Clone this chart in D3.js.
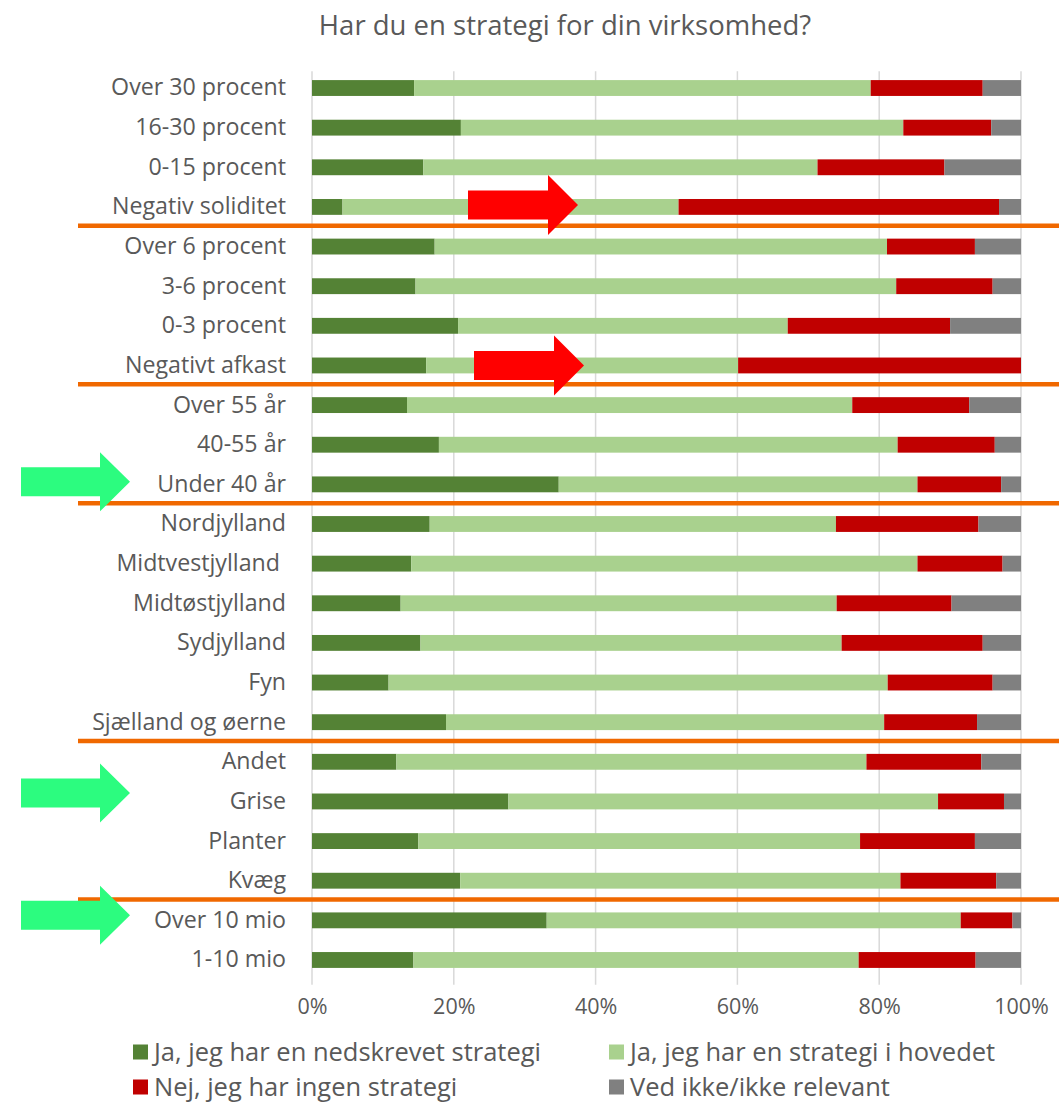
<!DOCTYPE html>
<html>
<head>
<meta charset="utf-8">
<script src="https://cdn.jsdelivr.net/npm/d3@7"></script>
<style>
  body { margin: 0; background: #fff; }
  text { font-family: "Open Sans", sans-serif; fill: #595959; }
</style>
</head>
<body>
<div id="vis"></div>
<script>

// data (percent of respondents)
var categories = ['Over 30 procent', '16-30 procent', '0-15 procent', 'Negativ soliditet',
  'Over 6 procent', '3-6 procent', '0-3 procent', 'Negativt afkast',
  'Over 55 år', '40-55 år', 'Under 40 år',
  'Nordjylland', 'Midtvestjylland ', 'Midtøstjylland', 'Sydjylland', 'Fyn', 'Sjælland og øerne',
  'Andet', 'Grise', 'Planter', 'Kvæg',
  'Over 10 mio', '1-10 mio'];

var nedskrevet = [14.4, 21.0, 15.7, 4.3, 17.3, 14.6, 20.6, 16.1, 13.4, 17.9, 34.8,
  16.6, 14.0, 12.5, 15.3, 10.8, 18.9, 11.9, 27.7, 15.0, 20.9, 33.1, 14.3];
var hovedet = [64.4, 62.4, 55.6, 47.4, 63.8, 67.8, 46.5, 44.0, 62.8, 64.7, 50.6,
  57.3, 71.4, 61.5, 59.4, 70.4, 61.8, 66.3, 60.6, 62.3, 62.1, 58.4, 62.8];
var ingen = [15.8, 12.4, 17.9, 45.2, 12.4, 13.6, 22.9, 39.9, 16.5, 13.7, 11.8,
  20.1, 12.0, 16.2, 19.9, 14.8, 13.1, 16.2, 9.3, 16.2, 13.5, 7.3, 16.5];
var vedIkke = [5.4, 4.2, 10.8, 3.1, 6.5, 4.0, 10.0, 0.0, 7.3, 3.7, 2.8,
  6.0, 2.6, 9.8, 5.4, 4.0, 6.2, 5.6, 2.4, 6.5, 3.5, 1.2, 6.4];

var seriesNames = ['Ja, jeg har en nedskrevet strategi', 'Ja, jeg har en strategi i hovedet',
  'Nej, jeg har ingen strategi', 'Ved ikke/ikke relevant'];
var seriesColors = ['#548235', '#a9d18e', '#c00000', '#808080'];
var tickValues = [0, 0.2, 0.4, 0.6, 0.8, 1];

// group separators sit below these categories
var separatorAfter = ['Negativ soliditet', 'Negativt afkast', 'Under 40 år', 'Sjælland og øerne', 'Kvæg'];
// highlight arrows (annotations)
var redArrows = ['Negativ soliditet', 'Negativt afkast'];
var greenArrows = ['Under 40 år', 'Grise', 'Over 10 mio'];

var width = 1059;
var height = 1105;
var plotLeft = 312, plotRight = 1021;
var plotTop = 68.2, plotBottom = 979.8;

var svg = d3.select('#vis').append('svg')
  .attr('width', width)
  .attr('height', height);

// build rows for the stack
var rows = categories.map(function(c, i) {
  return { cat: c, s0: nedskrevet[i], s1: hovedet[i], s2: ingen[i], s3: vedIkke[i] };
});
var stack = d3.stack().keys(['s0', 's1', 's2', 's3']).offset(d3.stackOffsetExpand);
var stacked = stack(rows);

var x = d3.scaleLinear().domain([0, 1]).range([plotLeft, plotRight]);
var y = d3.scaleBand().domain(categories).range([plotTop, plotBottom])
  .paddingInner(0.6).paddingOuter(0.3);

// title
svg.append('text')
  .attr('x', 565)
  .attr('y', 35)
  .attr('text-anchor', 'middle')
  .style('font-size', '27.5px')
  .text('Har du en strategi for din virksomhed?');

// vertical gridlines
svg.append('g').selectAll('line')
  .data(tickValues)
  .enter().append('line')
  .attr('x1', function(d) { return x(d); })
  .attr('x2', function(d) { return x(d); })
  .attr('y1', plotTop + 3)
  .attr('y2', plotBottom + 5)
  .attr('stroke', '#d9d9d9')
  .attr('stroke-width', 1.5);

// bars
svg.append('g').selectAll('g')
  .data(stacked)
  .enter().append('g')
  .attr('fill', function(d, i) { return seriesColors[i]; })
  .selectAll('rect')
  .data(function(d) { return d; })
  .enter().append('rect')
  .attr('x', function(d) { return x(d[0]); })
  .attr('width', function(d) { return x(d[1]) - x(d[0]); })
  .attr('y', function(d) { return y(d.data.cat); })
  .attr('height', y.bandwidth());

// category labels
var yAxis = d3.axisLeft(y).tickSize(0).tickPadding(26);
var yG = svg.append('g')
  .attr('transform', 'translate(' + plotLeft + ',0)')
  .call(yAxis);
yG.select('.domain').remove();
yG.selectAll('text')
  .style('font-size', '23.2px')
  .style('white-space', 'pre')
  .attr('fill', null);

// x axis tick labels
var xAxis = d3.axisBottom(x).tickValues(tickValues).tickFormat(d3.format('.0%')).tickSize(0).tickPadding(0);
var xG = svg.append('g')
  .attr('transform', 'translate(0,999)')
  .call(xAxis);
xG.select('.domain').remove();
xG.selectAll('text')
  .style('font-size', '21.5px')
  .attr('fill', null);

// orange separator lines
svg.append('g').selectAll('line')
  .data(separatorAfter)
  .enter().append('line')
  .attr('x1', 78)
  .attr('x2', width)
  .attr('y1', function(d) { return y(d) + y.bandwidth() / 2 + y.step() / 2 - 1; })
  .attr('y2', function(d) { return y(d) + y.bandwidth() / 2 + y.step() / 2 - 1; })
  .attr('stroke', '#f06800')
  .attr('stroke-width', 4.5);

// arrow shape: tail x, head base x, tip x, centre y
function arrowPath(x0, xb, xt, cy, sh, hh) {
  return 'M' + x0 + ',' + (cy - sh) + 'L' + xb + ',' + (cy - sh) + 'L' + xb + ',' + (cy - hh) +
    'L' + xt + ',' + cy + 'L' + xb + ',' + (cy + hh) + 'L' + xb + ',' + (cy + sh) +
    'L' + x0 + ',' + (cy + sh) + 'Z';
}

// red arrows sit on the bars
var redOffsets = [{ x0: 468, dy: -2 }, { x0: 474, dy: 0 }];
svg.append('g').selectAll('path')
  .data(redArrows)
  .enter().append('path')
  .attr('d', function(d, i) {
    var o = redOffsets[i];
    var cy = y(d) + y.bandwidth() / 2 + o.dy;
    return arrowPath(o.x0, o.x0 + 80, o.x0 + 110, cy, 14.5, 30);
  })
  .attr('fill', '#ff0000');

// green arrows next to the labels
var greenOffsets = [-2.5, -8.5, -5];
svg.append('g').selectAll('path')
  .data(greenArrows)
  .enter().append('path')
  .attr('d', function(d, i) {
    var cy = y(d) + y.bandwidth() / 2 + greenOffsets[i];
    return arrowPath(21, 100, 130, cy, 14.5, 29.5);
  })
  .attr('fill', '#2cfc7f');

// legend
var legendPos = [[133, 1052], [609, 1052], [133, 1087], [609, 1087]];
var legend = svg.append('g').selectAll('g')
  .data(seriesNames)
  .enter().append('g')
  .attr('transform', function(d, i) { return 'translate(' + legendPos[i][0] + ',' + legendPos[i][1] + ')'; });
legend.append('rect')
  .attr('x', 0)
  .attr('y', -7.5)
  .attr('width', 15)
  .attr('height', 15)
  .attr('fill', function(d, i) { return seriesColors[i]; });
legend.append('text')
  .attr('x', 21)
  .attr('y', 0)
  .attr('dy', '0.35em')
  .style('font-size', '25.5px')
  .text(function(d) { return d; });

</script>
</body>
</html>
